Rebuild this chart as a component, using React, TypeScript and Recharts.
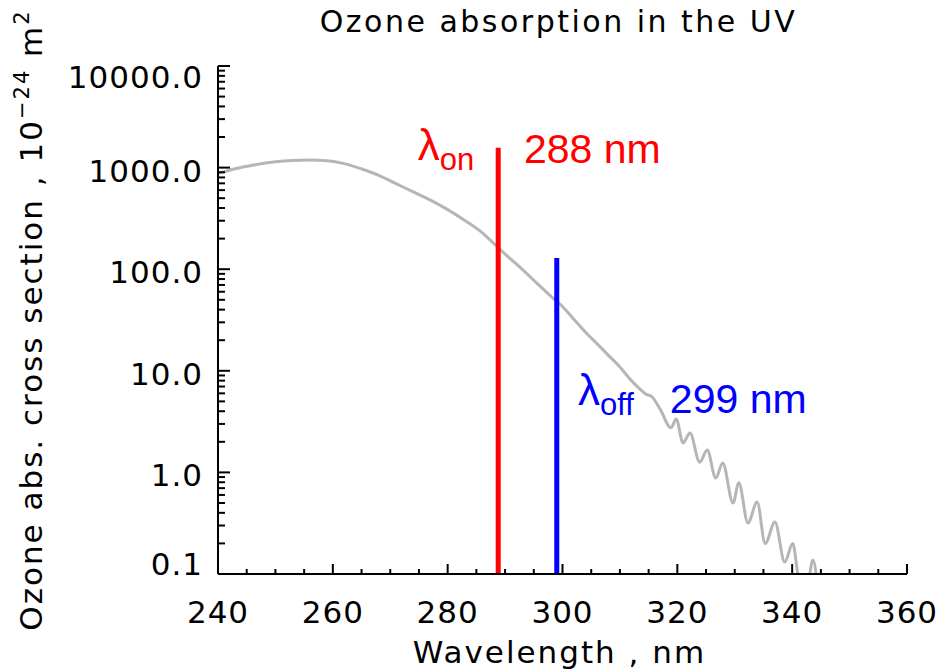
import { LineChart, Line, XAxis, YAxis, ReferenceLine, ReferenceDot } from 'recharts';

// ozone cross section (nm, 10^-24 m^2)
const wavelength = [
  240, 243, 246, 250, 253, 256, 259, 262, 265, 268,
  271, 274, 277, 280, 283, 286, 288, 290, 292, 294,
  296, 298, 300, 302, 304, 306, 308, 310, 312, 313.5,
  314.5, 315.5, 317.0, 318.9, 319.8, 321.0, 322.2, 323.9, 325.2, 326.7,
  327.9, 329.7, 330.7, 332.3, 333.9, 335.3, 337.0, 338.7, 340.1, 341.0,
  342.4, 343.6, 344.6,
];
const crossSection = [
  875, 975, 1055, 1140, 1175, 1188, 1170, 1095, 970, 840,
  695, 577, 478, 386, 302, 229, 180, 141, 112, 88,
  69, 54, 43, 32, 24, 18.5, 14.2, 10.9, 8.0, 6.6,
  5.9, 5.6, 4.2, 2.75, 3.36, 1.95, 2.44, 1.26, 1.66, 0.88,
  1.24, 0.5, 0.79, 0.318, 0.51, 0.2, 0.325, 0.131, 0.2, 0.1,
  0.06, 0.137, 0.06,
];

const xMajor = [240, 260, 280, 300, 320, 340, 360];
const xTicks = [
  240, 245, 250, 255, 260, 265, 270, 275, 280, 285, 290, 295, 300,
  305, 310, 315, 320, 325, 330, 335, 340, 345, 350, 355, 360,
];
const yDecades = [0.1, 1, 10, 100, 1000];
const yMultipliers = [1, 2, 3, 4, 5, 6, 7, 8, 9];
const yMax = 10000;

const lambdaOn = 288.8;
const lambdaOnTop = 1570;
const lambdaOff = 299;
const lambdaOffTop = 129;

const data = wavelength.map((wl, i) => ({ wl, sigma: crossSection[i] }));
const yTicks = [...yDecades.flatMap((d) => yMultipliers.map((m) => d * m)), yMax];

const W = 938;
const H = 670;
const M = { top: 66, right: 31, left: 0, bottom: 0 };
const Y_AXIS_W = 218;
const X_AXIS_H = 96;

const AXIS_FONT = '"DejaVu Sans", sans-serif';
const LABEL_FONT = '"Liberation Sans", Arial, sans-serif';

const isMajorY = (v: number) => {
  const l = Math.log10(v);
  return Math.abs(l - Math.round(l)) < 1e-6;
};

const BottomTick = ({ x, y, payload }: any) => {
  const major = xMajor.includes(payload.value);
  return (
    <g>
      <line x1={x} y1={y} x2={x} y2={y - (major ? 10 : 5)} stroke="#000" strokeWidth={2} />
      {major && (
        <text x={x} y={y + 49} textAnchor="middle" fontFamily={AXIS_FONT} fontSize={31} letterSpacing={1} fill="#000">
          {payload.value}
        </text>
      )}
    </g>
  );
};

const TopTick = ({ x, y, payload }: any) => {
  const major = xMajor.includes(payload.value);
  return <line x1={x} y1={y} x2={x} y2={y + (major ? 10 : 5)} stroke="#000" strokeWidth={2} />;
};

const LeftTick = ({ x, y, payload }: any) => {
  const v = payload.value;
  const major = isMajorY(v);
  let dy = 14;
  if (v >= yMax) dy = 22;
  if (v <= yDecades[0]) dy = 1;
  return (
    <g>
      <line x1={x} y1={y} x2={x + (major ? 12 : 7)} y2={y} stroke="#000" strokeWidth={2} />
      {major && (
        <text x={x - 15} y={y + dy} textAnchor="end" fontFamily={AXIS_FONT} fontSize={31} letterSpacing={1} fill="#000">
          {v.toFixed(1)}
        </text>
      )}
    </g>
  );
};

const RightTick = ({ x, y, payload }: any) => {
  const major = isMajorY(payload.value);
  return <line x1={x} y1={y} x2={x - (major ? 12 : 7)} y2={y} stroke="#000" strokeWidth={2} />;
};

// y title plus the chart title (the top axis label did not render)
const YTitle = ({ viewBox }: any) => {
  const cx = viewBox.x + 42;
  const cy = viewBox.y + viewBox.height / 2;
  const plotCenter = Y_AXIS_W + (W - Y_AXIS_W - M.right) / 2;
  return (
    <g>
      <text
        x={cx}
        y={cy}
        transform={`rotate(-90 ${cx} ${cy})`}
        textAnchor="middle"
        fontFamily={AXIS_FONT}
        fontSize={31}
        letterSpacing={2}
        fill="#000"
      >
        Ozone abs. cross section , 10
        <tspan fontSize={21} dy={-13}>−24</tspan>
        <tspan dy={13}> m</tspan>
        <tspan fontSize={21} dy={-13}>2</tspan>
      </text>
      <text
        x={plotCenter - 4}
        y={32}
        textAnchor="middle"
        fontFamily={AXIS_FONT}
        fontSize={30}
        letterSpacing={2.5}
        fill="#000"
      >
        Ozone absorption in the UV
      </text>
    </g>
  );
};

const XTitle = ({ viewBox }: any) => (
  <text
    x={viewBox.x + viewBox.width / 2 - 3}
    y={viewBox.y + 89}
    textAnchor="middle"
    fontFamily={AXIS_FONT}
    fontSize={31}
    letterSpacing={2}
    fill="#000"
  >
    Wavelength , nm
  </text>
);

const lambdaLabel = (sub: string, color: string) => (props: any) => (
  <text x={props.cx} y={props.cy} fontFamily={LABEL_FONT} fill={color}>
    <tspan fontSize={44}>λ</tspan>
    <tspan fontSize={31} dy={10}>{sub}</tspan>
  </text>
);

const nmLabel = (text: string, color: string) => (props: any) => (
  <text x={props.cx} y={props.cy} fontFamily={LABEL_FONT} fontSize={41} fill={color}>
    {text}
  </text>
);

export default function App() {
  return (
    <div style={{ position: 'absolute', left: 0, top: 0, background: '#fff' }}>
      <LineChart width={W} height={H} data={data} margin={M}>
        <XAxis
          dataKey="wl"
          type="number"
          domain={[240, 360]}
          ticks={xTicks}
          interval={0}
          height={X_AXIS_H}
          tickSize={0}
          tickMargin={0}
          tickLine={false}
          axisLine={{ stroke: '#000', strokeWidth: 2 }}
          tick={BottomTick}
          allowDataOverflow
          label={{ content: XTitle }}
        />
        <XAxis
          xAxisId="top"
          orientation="top"
          dataKey="wl"
          type="number"
          domain={[240, 360]}
          ticks={xTicks}
          interval={0}
          height={0}
          tickSize={0}
          tickMargin={0}
          tickLine={false}
          axisLine={{ stroke: '#000', strokeWidth: 2 }}
          tick={TopTick}
          allowDataOverflow
        />
        <YAxis
          type="number"
          scale="log"
          domain={[0.1, yMax]}
          ticks={yTicks}
          interval={0}
          width={Y_AXIS_W}
          tickSize={0}
          tickMargin={0}
          tickLine={false}
          axisLine={{ stroke: '#000', strokeWidth: 2 }}
          tick={LeftTick}
          allowDataOverflow
          label={{ content: YTitle }}
        />
        <YAxis
          yAxisId="right"
          orientation="right"
          type="number"
          scale="log"
          domain={[0.1, yMax]}
          ticks={yTicks}
          interval={0}
          width={0}
          tickSize={0}
          tickMargin={0}
          tickLine={false}
          axisLine={{ stroke: '#000', strokeWidth: 2 }}
          tick={RightTick}
          allowDataOverflow
        />
        <Line
          dataKey="sigma"
          type="monotone"
          stroke="#b6b6b6"
          strokeWidth={3}
          dot={false}
          isAnimationActive={false}
        />
        <ReferenceLine
          segment={[{ x: lambdaOn, y: 0.1 }, { x: lambdaOn, y: lambdaOnTop }]}
          stroke="#ff0000"
          strokeWidth={5}
        />
        <ReferenceLine
          segment={[{ x: lambdaOff, y: 0.1 }, { x: lambdaOff, y: lambdaOffTop }]}
          stroke="#0000ff"
          strokeWidth={5}
        />
        <ReferenceDot x={274.8} y={1190} r={0} shape={lambdaLabel('on', '#ff0000')} />
        <ReferenceDot x={293.3} y={1109} r={0} shape={nmLabel('288 nm', '#ff0000')} />
        <ReferenceDot x={302.7} y={4.6} r={0} shape={lambdaLabel('off', '#0000ff')} />
        <ReferenceDot x={318.7} y={3.85} r={0} shape={nmLabel('299 nm', '#0000ff')} />
      </LineChart>
    </div>
  );
}
